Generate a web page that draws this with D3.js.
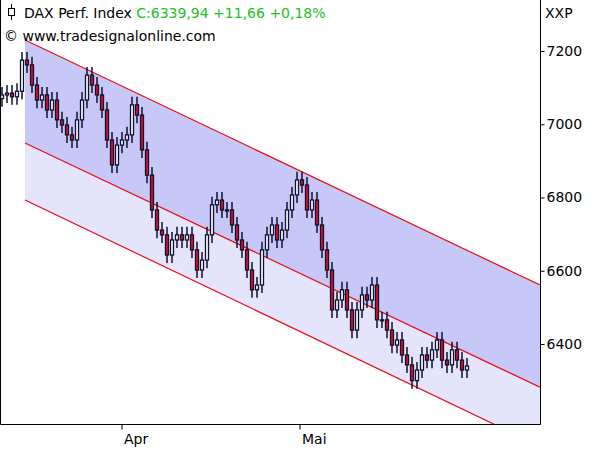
<!DOCTYPE html>
<html><head><meta charset="utf-8">
<script src="https://cdn.jsdelivr.net/npm/d3@7"></script>
<style>body{margin:0;background:#fff}svg{font-family:"DejaVu Sans",Verdana,sans-serif}</style>
</head><body><div id="chart"></div>
<script>
// closing prices, one bar per slot
const closes = [7080,7085,7075,7090,7175,7162,7107,7066,7080,7039,7066,7012,6998,6971,6957,7012,7066,7134,7107,7080,
  7039,6957,6889,6943,6957,6971,7053,7025,6930,6861,6766,6711,6698,6643,6684,6698,6684,6698,6657,6602,
  6629,6698,6780,6793,6766,6766,6725,6684,6657,6602,6548,6561,6657,6698,6725,6684,6711,6766,6807,6848,
  6834,6766,6793,6725,6657,6602,6493,6520,6548,6493,6438,6493,6534,6520,6561,6466,6466,6438,6397,6411,
  6370,6343,6300,6329,6370,6356,6384,6411,6356,6343,6384,6356,6329,6340];
const firstOpen = 7070;
const monthLabels = ["Apr", "Mai"];
const monthIdx = [24, 59.6];
const yTicks = [6400, 6600, 6800, 7000, 7200];
// regression channel: [start bar, end bar] and values
const chanIdx = [4.6, 107.6];
const chanTop = [7230, 6561];
const chanMid = [6949, 6282];
const chanBot = [6793, 6121];

const W = 595, H = 450, plotR = 540, plotB = 424;
const svg = d3.select("#chart").append("svg").attr("width", W).attr("height", H);

const x = d3.scaleLinear().domain([-0.4, 107.6]).range([0, plotR]);
const y = d3.scaleLinear().domain([6400, 7200]).range([344, 51]);

svg.append("defs").append("clipPath").attr("id", "c")
  .append("rect").attr("width", plotR).attr("height", plotB);
const g = svg.append("g").attr("clip-path", "url(#c)");

const pt = (vals, i) => [x(chanIdx[i]), y(vals[i])];
const poly = (a, b) => [pt(a,0), pt(a,1), pt(b,1), pt(b,0)];
g.append("polygon").attr("points", poly(chanTop, chanMid).join(" ")).attr("fill", "#c8c8f8");
g.append("polygon").attr("points", poly(chanMid, chanBot).join(" ")).attr("fill", "#e4e4fc");
[chanTop, chanMid, chanBot].forEach(v => {
  g.append("line").attr("x1", x(chanIdx[0])).attr("y1", y(v[0]))
    .attr("x2", x(chanIdx[1])).attr("y2", y(v[1]))
    .attr("stroke", "#e81010").attr("stroke-width", 1.2);
});

const bars = closes.map((c, i) => {
  const o = i ? closes[i-1] : firstOpen;
  return {i, o, c, h: Math.max(o, c) + 22, l: Math.min(o, c) - 22};
});
const cg = g.selectAll(".cd").data(bars).join("g");
cg.append("line").attr("x1", d => x(d.i)).attr("x2", d => x(d.i))
  .attr("y1", d => y(d.h)).attr("y2", d => y(d.l)).attr("stroke", "#101030").attr("stroke-width", 1.5);
cg.append("rect").attr("x", d => x(d.i) - 1.5).attr("width", 3)
  .attr("y", d => y(Math.max(d.o, d.c)))
  .attr("height", d => Math.max(1, Math.abs(y(d.o) - y(d.c))))
  .attr("fill", d => d.c >= d.o ? "#fff" : "#e0102a").attr("stroke", "#101030").attr("stroke-width", 1.3);

// frame
svg.append("path").attr("d", `M0.5,0V${plotB+0.5}H${plotR+0.5}V0`).attr("fill", "none").attr("stroke", "#000");

const ya = svg.append("g").attr("transform", `translate(${plotR + 0.5},0)`)
  .call(d3.axisRight(y).tickValues(yTicks).tickSize(4).tickFormat(d3.format("d")));
ya.select(".domain").remove();
ya.selectAll("text").attr("font-size", 14).attr("font-family", "DejaVu Sans").attr("fill", "#000").attr("x", 6);
ya.selectAll("line").attr("stroke", "#000");

const xa = svg.append("g").attr("transform", `translate(0,${plotB + 0.5})`);
monthIdx.forEach((m, k) => {
  xa.append("line").attr("x1", x(m)).attr("x2", x(m)).attr("y2", 5).attr("stroke", "#000");
  xa.append("text").attr("x", x(m) + 2).attr("y", 19).attr("font-size", 14).text(monthLabels[k]);
});

svg.append("text").attr("x", 545).attr("y", 18).attr("font-size", 14).text("XXP");

// header
const hd = svg.append("g");
hd.append("line").attr("x1", 11.5).attr("x2", 11.5).attr("y1", 4).attr("y2", 20).attr("stroke", "#000");
hd.append("rect").attr("x", 8.5).attr("y", 8.5).attr("width", 6).attr("height", 7).attr("fill", "#fff").attr("stroke", "#000");
const t = hd.append("text").attr("x", 24).attr("y", 18).attr("font-size", 14);
t.append("tspan").text("DAX Perf. Index ");
t.append("tspan").attr("fill", "#22c022").text("C:6339,94 +11,66 +0,18%");
hd.append("text").attr("x", 4).attr("y", 41).attr("font-size", 14).text("© www.tradesignalonline.com");
</script></body></html>
